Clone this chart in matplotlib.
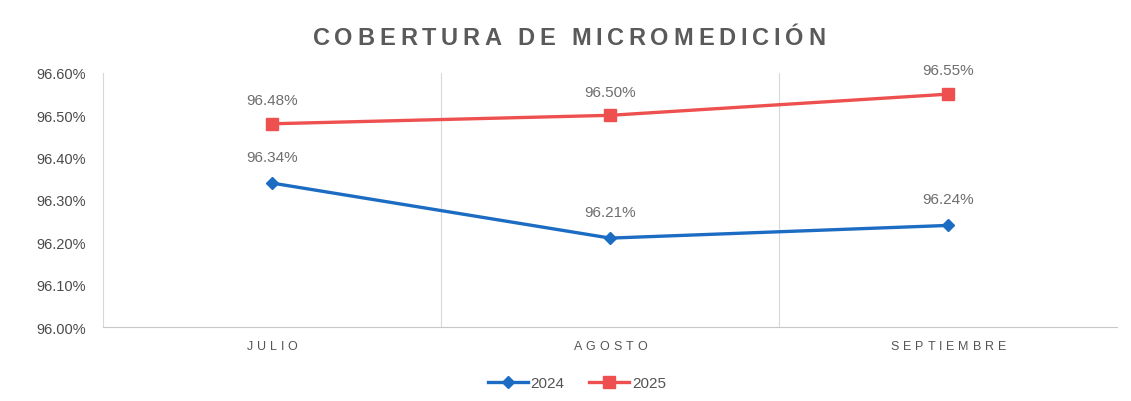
import numpy as np
import matplotlib.pyplot as plt

plt.rcParams["font.family"] = ["Liberation Sans", "DejaVu Sans"]

# datos
meses = ["JULIO", "AGOSTO", "SEPTIEMBRE"]
serie_2024 = [96.34, 96.21, 96.24]
serie_2025 = [96.48, 96.50, 96.55]
yticks = [96.00, 96.10, 96.20, 96.30, 96.40, 96.50, 96.60]

azul = "#1b6cc2"
rojo = "#ee5050"
gris = "#6e6e6e"


def texto_espaciado(fig, xc, y, s, espacio, **kw):
    # dibuja un texto letra por letra con espaciado extra, centrado en xc (fraccion de figura)
    r = fig.canvas.get_renderer()
    W = fig.bbox.width
    anchos = []
    for ch in s:
        t = fig.text(0, 0, ch if ch != " " else "i", **kw)
        anchos.append(t.get_window_extent(r).width / W)
        t.remove()
    total = sum(anchos) + espacio * (len(s) - 1)
    x0 = xc - total / 2
    for ch, w in zip(s, anchos):
        if ch != " ":
            fig.text(x0, y, ch, ha="left", va="center", **kw)
        x0 += w + espacio


fig = plt.figure(figsize=(11.31, 4.02), dpi=100)
ax = fig.add_axes([0.091, 0.184, 0.897, 0.632])

x = np.arange(len(meses))
ax.plot(x, serie_2024, color=azul, lw=2.4, marker="D", ms=6.5, label="2024")
ax.plot(x, serie_2025, color=rojo, lw=2.4, marker="s", ms=8.5, label="2025")

for xi, v in zip(x, serie_2024):
    ax.annotate("{:.2f}%".format(v), (xi, v), xytext=(0, 14), textcoords="offset points",
                ha="center", va="bottom", fontsize=11, color=gris)
for xi, v in zip(x, serie_2025):
    ax.annotate("{:.2f}%".format(v), (xi, v), xytext=(0, 12), textcoords="offset points",
                ha="center", va="bottom", fontsize=11, color=gris)

ax.set_xlim(-0.5, len(meses) - 0.5)
ax.set_ylim(96.0, 96.6)
ax.set_yticks(yticks)
ax.set_yticklabels(["{:.2f}%".format(t) for t in yticks], fontsize=10.5, color="#4a4a4a")
ax.set_xticks(x)
ax.set_xticklabels([])
ax.tick_params(length=0, pad=12)

fig.canvas.draw()
for xi, m in zip(x, meses):
    xd = ax.transData.transform((xi, 96.0))[0] / fig.bbox.width
    texto_espaciado(fig, xd, 0.137, m, 0.0035, fontsize=9, color="#555555")

for b in np.arange(0.5, len(meses) - 0.5, 1.0):
    ax.axvline(b, color="#d8d8d8", lw=0.8, zorder=0)
for s in ["top", "right"]:
    ax.spines[s].set_visible(False)
ax.spines["left"].set_color("#d8d8d8")
ax.spines["bottom"].set_color("#c8c8c8")

texto_espaciado(fig, 0.503, 0.905, "COBERTURA DE MICROMEDICIÓN", 0.0042,
                fontsize=17, fontweight="bold", color="#5a5a5a")

fig.legend(loc="center", bbox_to_anchor=(0.51, 0.045), ncol=2, frameon=False,
           fontsize=11, handlelength=2.6, columnspacing=1.6, handletextpad=0.2,
           labelcolor="#555555")

fig.savefig("out.png", dpi=100)
